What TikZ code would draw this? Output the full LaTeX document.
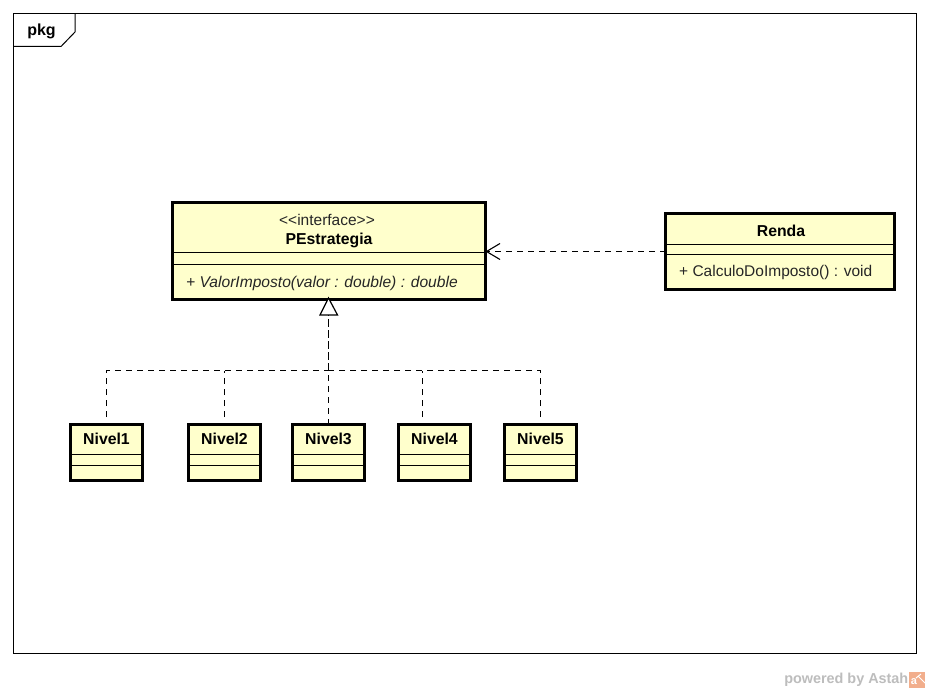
\documentclass[tikz,border=0pt]{standalone}
\usepackage{fontspec}
\setmainfont{Liberation Sans}
\definecolor{fillc}{HTML}{FFFFCC}
\definecolor{wm}{HTML}{BDBDBD}
\definecolor{logoc}{HTML}{F2AE8C}
\tikzset{
 x=1pt,y=-1pt,
 classbox/.style={draw=black,line width=3pt,fill=fillc,anchor=north west,inner sep=0pt,outer sep=0pt},
 sep/.style={draw=black,line width=1pt},
 dep/.style={draw=black,line width=1pt,dash pattern=on 6pt off 5pt},
 depmany/.style={draw=black,line width=1.5pt,dash pattern=on 8pt off 3pt},
 title/.style={font=\fontsize{15.8}{17}\selectfont\bfseries,inner sep=0pt},
 member/.style={font=\fontsize{15.5}{17}\selectfont,inner sep=0pt,anchor=west,text=black!85},
}
\begin{document}
\begin{tikzpicture}[line join=miter]
\useasboundingbox (0,0) rectangle (929,693);
\fill[white] (0,0) rectangle (929,693);
% frame
\node[draw=black,line width=1pt,anchor=north west,minimum width=903pt,minimum height=640pt,inner sep=0pt,outer sep=0pt] (frame) at (13.5,13.5) {};
\draw[black,line width=1pt] (13.5,46.5) -- (61,46.5) -- (75,32) -- (75,13.5);
\node[font=\fontsize{16}{17}\selectfont\bfseries,inner sep=0pt] (pkg) at (41.5,31) {pkg};
% PEstrategia
\node[classbox,minimum width=313pt,minimum height=96.5pt] (pe) at (172.5,202.5) {};
\draw[sep] (172.5,252.5) -- (485.5,252.5);
\draw[sep] (172.5,264) -- (485.5,264);
\node[font=\fontsize{15.5}{17}\selectfont,inner sep=0pt,text=black!85] (pes) at (327,219.5) {<{}<interface>{}>};
\node[title] (pet) at (329,240.5) {PEstrategia};
\node[member,font=\fontsize{15.6}{17}\selectfont\itshape] (pem) at (186,283.5) {+ ValorImposto(valor : double) : double};
% Renda
\node[classbox,minimum width=229pt,minimum height=76pt] (re) at (665.5,213.5) {};
\draw[sep] (665.5,244) -- (894.5,244);
\draw[sep] (665.5,254.5) -- (894.5,254.5);
\node[title] (ret) at (781,230.5) {Renda};
\node[member] (rem) at (679,272.5) {+ CalculoDoImposto() : void};
% Nivel boxes
\foreach \n/\x in {1/70.5,2/188.5,3/292.5,4/398.5,5/504.5}{
  \node[classbox,minimum width=72pt,minimum height=56pt] (n\n) at (\x,424.5) {};
  \draw[sep] (\x,454.5) -- ++(72,0);
  \draw[sep] (\x,465) -- ++(72,0);
  \node[title] (nt\n) at ({\x+36},439) {Nivel\n};
}
% connectors
\coordinate (head) at (328.5,315);
\coordinate (bus) at (328.5,370.5);
\coordinate (e1) at (106.5,417);
\coordinate (e2) at (224.5,417);
\coordinate (e4) at (422.5,417);
\coordinate (e5) at (540.5,417);
\draw[dep] (e1) -- (e1 |- bus) -- (bus);
\draw[dep] (e5) -- (e5 |- bus) -- (bus);
\draw[dep] (e2) -- (e2 |- bus);
\draw[dep] (e4) -- (e4 |- bus);
\draw[dep] (n3.north) -- (bus);
\draw[depmany] (bus) -- (head);
\draw[black,line width=1.2pt,fill=white] (pe.south -| head) ++(0,-1) -- (320,315) -- (337.5,315) -- cycle;
% dependency
\coordinate (tip) at (486.5,251.5);
\draw[dep] (re.west |- tip) -- (tip);
\draw[black,line width=1.1pt] (500,243.5) -- (tip) -- (500,259.5);
% watermark
\node[font=\fontsize{14.4}{16}\selectfont\bfseries,text=wm,inner sep=0pt,anchor=east] (wmk) at (908.5,680) {powered by Astah};
\fill[logoc] (909,672) rectangle (925,688);
\node[font=\fontsize{11}{11}\selectfont\bfseries,text=white,inner sep=0pt] (logo) at (914,682) {a};
\draw[white,line width=1pt] (918,676) -- (925,683);
\draw[white,line width=1pt] (916,678) -- (921,674);
\end{tikzpicture}
\end{document}
